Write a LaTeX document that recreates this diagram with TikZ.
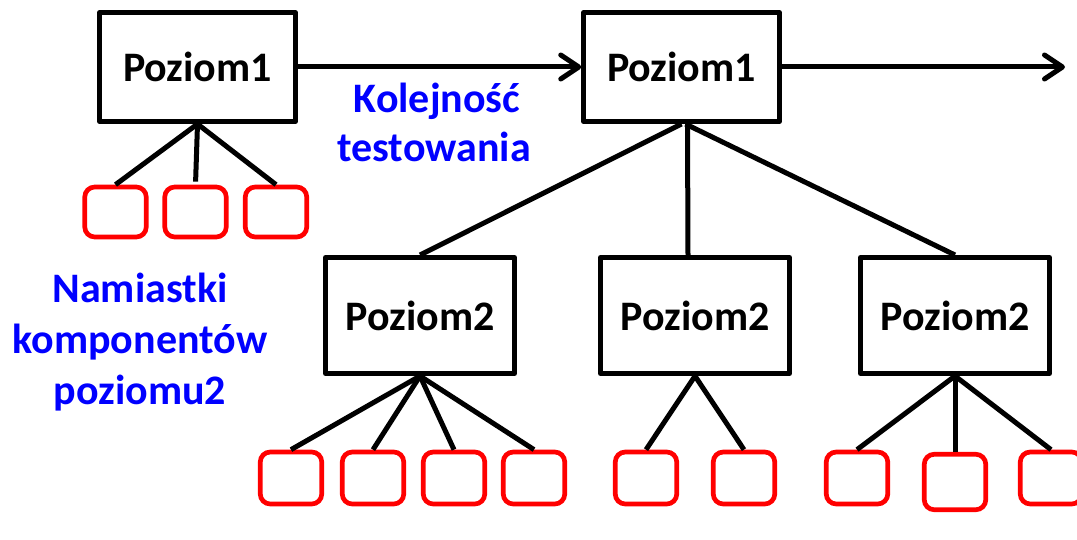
\documentclass[tikz,border=0pt]{standalone}
\usepackage{fontspec}
\setmainfont{Carlito}
\usetikzlibrary{arrows.meta}
\begin{document}
\begin{tikzpicture}[x=1pt,y=-1pt,
  lvl/.style={draw=black, line width=5pt, line join=round, inner sep=0pt,
    minimum width=#1, font=\fontsize{42}{50}\selectfont\bfseries},
  lvlone/.style={lvl=195.5pt, minimum height=109pt},
  lvltwo/.style={lvl=189pt, minimum height=116pt},
  stubbox/.style={draw=red, line width=4.7pt, rounded corners=10pt, inner sep=0pt,
    minimum width=61.5pt, minimum height=52pt},
  link/.style={draw=black, line width=5pt},
  flow/.style={draw=black, line width=5pt, -{Straight Barb[length=18pt,width=24pt,round]}},
  note/.style={text=blue, inner sep=0pt, anchor=base, font=\fontsize{42}{50}\selectfont\bfseries}]
\useasboundingbox (0,0) rectangle (1077,540);

% level 1 modules
\node[lvlone] (a) at (197.5,67) {Poziom1};
\node[lvlone] (b) at (681.5,67) {Poziom1};
\coordinate (bend) at (1065,67);

% level 2 modules
\node[lvltwo] (p1) at (420,315.5) {Poziom2};
\node[lvltwo] (p2) at (695,315.5) {Poziom2};
\node[lvltwo] (p3) at (955,315.5) {Poziom2};

% stubs under the first level-1 module
\node[stubbox, minimum height=50pt] (s1) at (115.5,212) {};
\node[stubbox, minimum height=50pt] (s2) at (195.5,212) {};
\node[stubbox, minimum height=50pt] (s3) at (276,212) {};

% stubs under the level-2 modules
\node[stubbox] (t1) at (291,478) {};
\node[stubbox] (t2) at (373,478) {};
\node[stubbox] (t3) at (454,478) {};
\node[stubbox] (t4) at (534,478) {};
\node[stubbox] (u1) at (646,478) {};
\node[stubbox] (u2) at (744,478) {};
\node[stubbox] (v1) at (857,478) {};
\node[stubbox, minimum height=55.5pt] (v2) at (955,482) {};
\node[stubbox] (v3) at (1051,478) {};

% testing order
\draw[flow] (a.east) -- (b.west);
\draw[flow] (b.east) -- (bend);

% tree connectors
\draw[link] (a.south) -- (s1.north);
\draw[link, shorten >=3pt] (a.south) -- (s2.north);
\draw[link] (a.south) -- (s3.north);

\draw[link] (b.south) -- (p1.north);
\draw[link] ([xshift=6pt]b.south) -- ([xshift=-7pt]p2.north);
\draw[link] ([xshift=4pt]b.south) -- (p3.north);

\draw[link] (p1.south) -- (t1.north);
\draw[link] (p1.south) -- (t2.north);
\draw[link] (p1.south) -- (t3.north);
\draw[link] (p1.south) -- (t4.north);
\draw[link] (p2.south) -- (u1.north);
\draw[link] (p2.south) -- (u2.north);
\draw[link] (p3.south) -- (v1.north);
\draw[link] (p3.south) -- (v2.north);
\draw[link] (p3.south) -- (v3.north);

% captions
\node[note] (k1) at (437,113) {Kolejność};
\node[note] (k2) at (434,162) {testowania};
\node[note] (n1) at (140,302) {Namiastki};
\node[note] (n2) at (140,353) {komponentów};
\node[note] (n3) at (140,404) {poziomu2};
\end{tikzpicture}
\end{document}
